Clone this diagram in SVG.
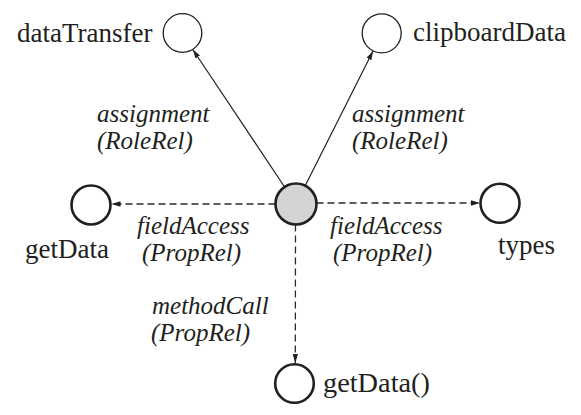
<svg xmlns="http://www.w3.org/2000/svg" width="581" height="415" viewBox="0 0 581 415">
<style>
text{font-family:'Liberation Serif','Times New Roman',serif;font-size:27px;fill:#231f20}
.it{font-style:italic;font-size:25px}
.thin{fill:#fff;stroke:#231f20;stroke-width:1.3}
.thick{fill:#fff;stroke:#231f20;stroke-width:2.6}
.center{fill:#d4d4d4;stroke:#231f20;stroke-width:2.6}
.solid{stroke:#231f20;stroke-width:1.2;fill:none}
.dash{stroke:#2a2a2a;stroke-width:1.3;fill:none;stroke-dasharray:7 4}
</style>
<defs>
<marker id="ah" viewBox="0 0 10 6" refX="10" refY="3" markerWidth="9" markerHeight="5.5" markerUnits="userSpaceOnUse" orient="auto">
<path d="M0,0 L10,3 L0,6 z" fill="#231f20"/>
</marker>
</defs>
<g id="connectors">
<line class="solid" x1="284.6" y1="187" x2="192.8" y2="49.5" marker-end="url(#ah)"/>
<line class="solid" x1="305.2" y1="185.7" x2="373" y2="51" marker-end="url(#ah)"/>
<line class="dash" x1="275.5" y1="204" x2="111.5" y2="204" marker-end="url(#ah)"/>
<line class="dash" x1="316.5" y1="203" x2="480" y2="203" marker-end="url(#ah)"/>
<line class="dash" x1="295.5" y1="224.5" x2="295.3" y2="363" marker-end="url(#ah)"/>
<text class="it" x="97" y="122">assignment</text>
<text class="it" x="97" y="149">(RoleRel)</text>
<text class="it" x="352" y="122">assignment</text>
<text class="it" x="352" y="149">(RoleRel)</text>
<text class="it" x="137" y="234">fieldAccess</text>
<text class="it" x="142" y="261">(PropRel)</text>
<text class="it" x="330" y="234">fieldAccess</text>
<text class="it" x="333" y="261">(PropRel)</text>
<text class="it" x="152" y="314">methodCall</text>
<text class="it" x="151" y="341">(PropRel)</text>
</g>
<g id="center">
<circle class="center" cx="296" cy="204" r="20.5"/>
</g>
<g id="dataTransfer">
<circle class="thin" cx="182.5" cy="33" r="19.3"/>
<text x="17" y="42">dataTransfer</text>
</g>
<g id="clipboardData">
<circle class="thin" cx="381.7" cy="33.3" r="19.5"/>
<text x="413" y="41">clipboardData</text>
</g>
<g id="getData">
<circle class="thick" cx="91" cy="205" r="19.5"/>
<text x="25" y="258">getData</text>
</g>
<g id="types">
<circle class="thick" cx="500" cy="203.3" r="19.5"/>
<text x="498" y="254">types</text>
</g>
<g id="getDataCall">
<circle class="thick" cx="294.5" cy="383.5" r="19.3"/>
<text x="323" y="392" textLength="107" lengthAdjust="spacingAndGlyphs">getData()</text>
</g>
</svg>
